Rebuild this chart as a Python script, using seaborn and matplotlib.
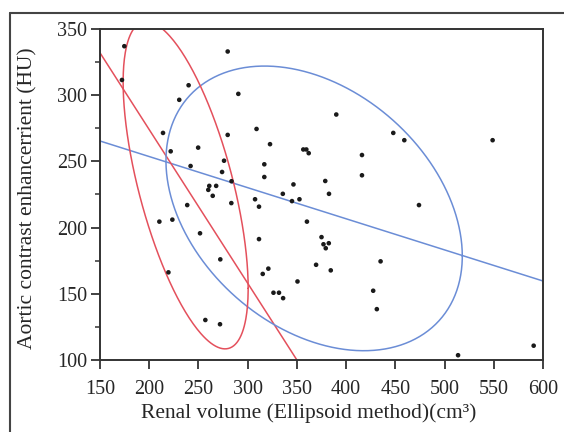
import numpy as np
import pandas as pd
import matplotlib
matplotlib.use("Agg")
import matplotlib.pyplot as plt
import seaborn as sns
from matplotlib.lines import Line2D

# scatter points
renal_volume = [174.7, 279.7, 172.3, 240.0, 290.5, 230.5, 214.0, 279.7, 249.7, 221.8,
                276.0, 242.0, 274.0, 283.6, 261.0, 268.0, 260.0, 264.5, 238.6, 283.4,
                210.3, 223.5, 251.6, 272.2, 219.5, 257.0, 271.9, 390.0, 309.0, 447.9,
                459.1, 548.8, 322.7, 356.5, 359.6, 362.0, 416.1, 316.9, 316.9, 416.1,
                346.5, 378.8, 335.7, 382.6, 307.5, 311.5, 345.0, 352.6, 474.0, 360.2,
                311.5, 375.0, 377.0, 382.4, 379.3, 435.0, 369.5, 384.4, 321.0, 315.3,
                350.6, 326.2, 331.8, 336.0, 427.5, 431.2, 513.7, 590.5]
aortic_hu = [337.0, 333.0, 311.5, 307.5, 301.0, 296.5, 271.5, 270.0, 260.4, 257.6,
             250.5, 246.5, 242.0, 235.0, 231.5, 231.5, 228.5, 224.0, 217.0, 218.5,
             204.5, 206.0, 195.7, 176.0, 166.2, 130.2, 127.0, 285.4, 274.5, 271.5,
             266.0, 266.0, 263.0, 259.0, 259.0, 256.2, 254.8, 247.8, 238.2, 239.5,
             232.6, 235.2, 225.5, 225.5, 221.4, 215.8, 220.0, 221.4, 217.0, 204.5,
             191.3, 192.8, 187.4, 188.2, 184.4, 174.5, 171.9, 167.7, 169.0, 165.0,
             159.3, 150.8, 150.8, 146.7, 152.3, 138.4, 103.6, 110.8]

# fit lines: value at x=150 and slope
blue_fit = (265.4, -0.235)
red_fit = (332.0, -1.16)

# density ellipses: centre, half ranges, correlation
blue_center = (367.5, 214.5)
blue_half = (150.5, 107.5)
blue_r = -0.335
red_center = (237.0, 232.0)
red_half = (63.5, 123.6)
red_r = -0.63

RED = "#e4505c"
BLUE = "#6b8dd6"


def ellipse_df(center, half, r):
    t = np.linspace(0, 2 * np.pi, 300)
    phi = np.arccos(r)
    return pd.DataFrame({"x": center[0] + half[0] * np.cos(t),
                         "y": center[1] + half[1] * np.cos(t - phi)})


def line_df(fit):
    xs = np.array([150.0, 600.0])
    return pd.DataFrame({"x": xs, "y": fit[0] + fit[1] * (xs - 150.0)})


sns.set_style("ticks")
plt.rcParams["font.family"] = ["Liberation Serif", "DejaVu Serif"]

fig = plt.figure(figsize=(5.64, 4.32), dpi=100)
ax = fig.add_axes([0.1773, 0.1667, 0.7855, 0.7662])

pts = pd.DataFrame({"x": renal_volume, "y": aortic_hu})
sns.scatterplot(data=pts, x="x", y="y", ax=ax, color="#1a1a1a", s=11,
                edgecolor="none", zorder=3)

for df, col in [(line_df(blue_fit), BLUE), (line_df(red_fit), RED),
                (ellipse_df(blue_center, blue_half, blue_r), BLUE),
                (ellipse_df(red_center, red_half, red_r), RED)]:
    sns.lineplot(data=df, x="x", y="y", ax=ax, sort=False, estimator=None,
                 color=col, linewidth=1.1)

ax.set_xlim(150, 600)
ax.set_ylim(100, 350)
ax.set_xticks(np.arange(150, 601, 50))
ax.set_yticks(np.arange(100, 351, 50))
ax.set_yticks(np.arange(125, 350, 50), minor=True)

for s in ax.spines.values():
    s.set_visible(True)
    s.set_linewidth(1.4)
    s.set_color("#333333")

ax.tick_params(axis="both", which="major", direction="out", length=6.5,
               width=1.3, color="#333333", labelsize=14.5, pad=2.5)
ax.tick_params(axis="x", which="major", pad=8)
ax.tick_params(axis="y", which="minor", direction="out", length=3.5,
               width=1.1, color="#333333")

ax.set_xlabel("Renal volume (Ellipsoid method)(cm³)", fontsize=15.5)
ax.set_ylabel("Aortic contrast enhancerrient (HU)", fontsize=15.5)
ax.xaxis.set_label_coords(0.47, -0.13)
ax.yaxis.set_label_coords(-0.14, 0.49)

# outer frame around the figure
fig.add_artist(Line2D([10 / 564, 1.0], [1 - 13 / 432, 1 - 13 / 432],
                      transform=fig.transFigure, color="#444444", linewidth=1.5))
fig.add_artist(Line2D([10 / 564, 10 / 564], [0.0, 1 - 13 / 432],
                      transform=fig.transFigure, color="#444444", linewidth=1.5))

fig.savefig("out.png", dpi=100)
plt.close(fig)
